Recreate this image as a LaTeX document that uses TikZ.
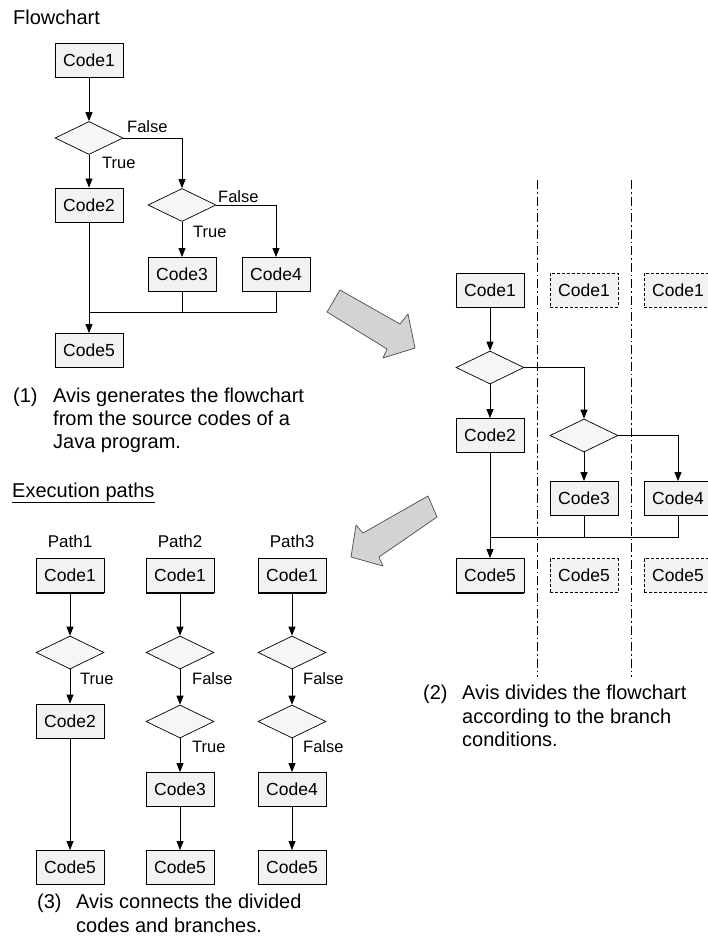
\documentclass[tikz,border=0pt]{standalone}
\usepackage{fontspec}
\setmainfont{Liberation Sans}
\usetikzlibrary{arrows.meta,shapes.geometric}
\definecolor{boxfill}{HTML}{F2F2F2}
\definecolor{decfill}{HTML}{F6F6F6}
\definecolor{bigarrow}{HTML}{D3D3D3}
\begin{document}
\begin{tikzpicture}[x=1pt,y=-1pt,
  box/.style={draw, line width=0.8pt, fill=boxfill, minimum width=68pt, minimum height=34pt, inner sep=0pt, font=\fontsize{17.5}{20}\selectfont},
  dbox/.style={box, dash pattern=on 3pt off 2pt},
  dec/.style={draw, diamond, line width=0.7pt, fill=decfill, minimum width=68pt, minimum height=33pt, inner sep=0pt},
  arr/.style={line width=0.8pt, -{Triangle[length=9pt,width=7pt]}},
  ln/.style={line width=0.8pt},
  lbl/.style={anchor=base west, inner sep=0pt, font=\fontsize{16.5}{19}\selectfont},
  plbl/.style={anchor=base, inner sep=0pt, font=\fontsize{17}{19}\selectfont},
  captxt/.style={anchor=base west, inner sep=0pt, font=\fontsize{20}{23}\selectfont},
  sepline/.style={line width=0.6pt, dash pattern=on 9pt off 3pt on 1.5pt off 3pt},
  big/.style={fill=bigarrow, draw=black!70, line width=0.7pt, line join=round},
  bot/.style={line width=1.4pt}
]
\useasboundingbox (0,0) rectangle (707,936);

% ---------- (1) original flowchart ----------
\node[captxt] (title) at (13,25) {Flowchart};
\node[box] (L1) at (89,60) {Code1};
\node[dec] (Ld1) at (89,138) {};
\node[box] (L2) at (89,205) {Code2};
\node[dec] (Ld2) at (182,205) {};
\node[box] (L3) at (182,274.5) {Code3};
\node[box] (L4) at (276,274.5) {Code4};
\node[box] (L5) at (89,350.5) {Code5};
\coordinate (jL) at (89,312);

\draw[arr] (L1) -- (Ld1);
\draw[arr] (Ld1) -- (L2);
\draw[arr] (Ld1.east) -| (Ld2.north);
\draw[arr] (Ld2) -- (L3);
\draw[arr] (Ld2.east) -| (L4.north);
\draw[arr] (L2) -- (L5);
\draw[ln] (L4.south) |- (jL);
\draw[ln] (L3.south) -- (L3.south |- jL);

\node[lbl] (lF1) at (127,133) {False};
\node[lbl] (lT1) at (102,168) {True};
\node[lbl] (lF2) at (218,202) {False};
\node[lbl] (lT2) at (193,237) {True};

\node[captxt] (c1n) at (13,402) {(1)};
\node[captxt] (c1a) at (53,402) {Avis generates the flowchart};
\node[captxt] (c1b) at (53,425) {from the source codes of a};
\node[captxt] (c1c) at (53,448) {Java program.};

% ---------- big arrows ----------
\draw[big] (340,290) -- (400,324) -- (408,314) -- (415,348) -- (383,358) -- (387,349) -- (327,312) -- cycle;
\draw[big] (428,496) -- (437,517) -- (379,557) -- (383,566) -- (351,557) -- (356,525) -- (363,533) -- cycle;

% ---------- (2) divided flowchart ----------
\draw[sepline] (537,180) -- (537,677);
\draw[sepline] (631,180) -- (631,677);

\node[box] (R1) at (490,290) {Code1};
\node[dbox] (R1b) at (584,290) {Code1};
\node[dbox] (R1c) at (678,290) {Code1};
\node[dec] (Rd1) at (490,367.5) {};
\node[box] (R2) at (490,435.5) {Code2};
\node[dec] (Rd2) at (584,435.5) {};
\node[box] (R3) at (584,498.5) {Code3};
\node[box] (R4) at (678,498.5) {Code4};
\node[box] (R5) at (490,575.5) {Code5};
\node[dbox] (R5b) at (584,575.5) {Code5};
\node[dbox] (R5c) at (678,575.5) {Code5};
\coordinate (jR) at (490,537);

\draw[arr] (R1) -- (Rd1);
\draw[arr] (Rd1) -- (R2);
\draw[arr] (Rd1.east) -| (Rd2.north);
\draw[arr] (Rd2) -- (R3);
\draw[arr] (Rd2.east) -| (R4.north);
\draw[arr] (R2) -- (R5);
\draw[ln] (R4.south) |- (jR);
\draw[ln] (R3.south) -- (R3.south |- jR);

\node[captxt] (c2n) at (423,699) {(2)};
\node[captxt] (c2a) at (462,699) {Avis divides the flowchart};
\node[captxt] (c2b) at (462,723) {according to the branch};
\node[captxt] (c2c) at (462,746) {conditions.};

% ---------- (3) execution paths ----------
\node[captxt] (exec) at (12,497) {\underline{Execution paths}};

\node[plbl] (p1) at (70,547) {Path1};
\node[plbl] (p2) at (180,547) {Path2};
\node[plbl] (p3) at (292,547) {Path3};

% Path1
\node[box] (P11) at (70,575.5) {Code1};
\node[dec] (P1d) at (70,652.5) {};
\node[box] (P12) at (70,721) {Code2};
\node[box] (P15) at (70,867.5) {Code5};
\draw[arr] (P11) -- (P1d);
\draw[arr] (P1d) -- (P12);
\draw[arr] (P12) -- (P15);
\node[lbl] (t1) at (80,684) {True};

% Path2
\node[box] (P21) at (180,575.5) {Code1};
\node[dec] (P2d1) at (180,652.5) {};
\node[dec] (P2d2) at (180,721.5) {};
\node[box] (P23) at (180,789.5) {Code3};
\node[box] (P25) at (180,867.5) {Code5};
\draw[arr] (P21) -- (P2d1);
\draw[arr] (P2d1) -- (P2d2);
\draw[arr] (P2d2) -- (P23);
\draw[arr] (P23) -- (P25);
\node[lbl] (t2a) at (192,684) {False};
\node[lbl] (t2b) at (192,752) {True};

% Path3
\node[box] (P31) at (292,575.5) {Code1};
\node[dec] (P3d1) at (292,652.5) {};
\node[dec] (P3d2) at (292,721.5) {};
\node[box] (P34) at (292,789.5) {Code4};
\node[box] (P35) at (292,867.5) {Code5};
\draw[arr] (P31) -- (P3d1);
\draw[arr] (P3d1) -- (P3d2);
\draw[arr] (P3d2) -- (P34);
\draw[arr] (P34) -- (P35);
\node[lbl] (t3a) at (303,684) {False};
\node[lbl] (t3b) at (303,752) {False};

\node[captxt] (c3n) at (37,908) {(3)};
\node[captxt] (c3a) at (76,908) {Avis connects the divided};
\node[captxt] (c3b) at (76,932) {codes and branches.};

% darker bottom edges
\foreach \n in {L1,R1,R5,P11,P21,P31}
  \draw[bot] (\n.south west) -- (\n.south east);
\end{tikzpicture}
\end{document}
